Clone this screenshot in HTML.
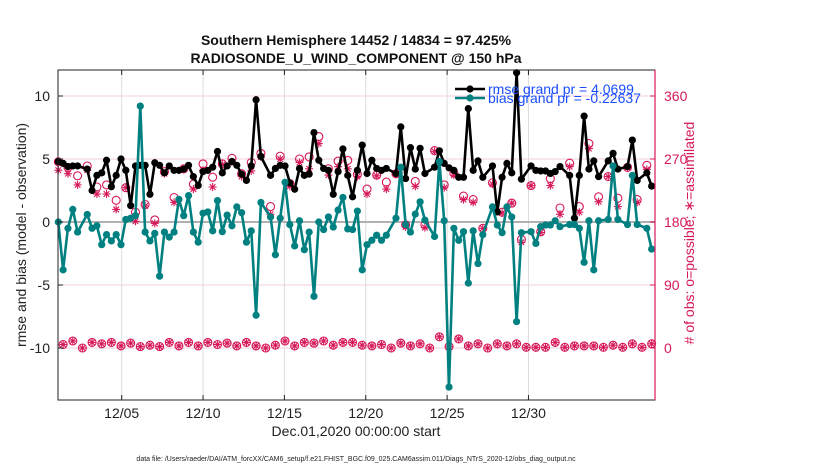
<!DOCTYPE html>
<html><head><meta charset="utf-8"><style>
body{margin:0;background:#fff;width:830px;height:470px;overflow:hidden;position:relative}
svg{font-family:"Liberation Sans",sans-serif}
</style></head><body>
<svg id="c" width="830" height="470"></svg>
<script>
const rmse=[4.8,4.65,4.4,4.45,4.45,null,4.2,2.5,3.7,3.9,4.9,2.8,3.7,5.0,4.1,1.3,4.45,4.5,4.5,2.2,4.7,4.5,3.9,4.45,4.1,4.1,4.2,4.5,3.6,2.9,4.0,4.1,
4.35,5.6,3.9,4.45,4.8,4.5,3.8,3.3,4.45,9.7,5.2,null,3.7,4.25,4.5,4.45,3.1,2.6,4.25,3.7,3.8,7.1,4.9,4.25,4.1,2.2,4.0,5.8,3.7,2.0,4.1,
6.1,3.85,4.9,4.25,4.1,4.25,null,3.85,7.55,3.45,5.9,4.2,5.85,3.85,null,4.35,5.65,4.65,4.3,4.1,3.55,3.55,9.0,4.1,4.85,3.55,null,4.45,0.8,3.55,4.65,
3.9,11.85,3.4,null,4.45,4.1,4.05,4.05,3.85,4.0,4.4,null,3.7,0.3,3.7,8.4,4.2,4.85,3.6,null,4.85,5.45,4.2,null,4.4,6.5,3.3,null,3.9,2.85];
const bias=[0,-3.8,-0.5,1,-0.8,null,0.6,-0.5,-0.3,-1.8,-1,-1.5,-1,-1.8,0.2,0.3,0.5,9.2,-0.8,-1.5,-0.9,-4.3,-0.8,-1.2,-0.8,1.8,0.5,2.1,-0.8,-1.6,0.7,0.8,
-0.7,1.7,-0.77,0.55,-0.3,1.2,0.74,-1.6,-0.7,-7.4,1.55,null,0.4,-2.6,0.3,3.15,-0.2,-1.9,0.1,-2.2,-0.8,-5.9,0,-0.6,0.4,-0.4,0.95,1.95,-0.55,-0.6,0.87,
-3.8,-1.8,-1.45,-1.05,-1.45,-1.05,null,0.3,4.35,-0.2,-0.8,0.63,1.6,0.15,null,-1.15,4.8,0.1,-13.1,-0.5,-1.45,-0.77,-4.85,-0.7,-3.3,-1.0,null,1.2,-0.24,-0.85,1.2,
0.4,-7.9,-0.85,null,-0.77,-1.7,-0.37,-0.24,-0.24,0.1,-0.37,null,-0.2,-0.2,-0.5,-3.2,0.1,-3.8,0.1,null,0.2,4.45,0.2,null,-0.2,3.7,-0.2,null,-0.5,-2.15];
const possible=[266,5,258,10,246,0,260,8,230,6,233,8,211,3,229,7,194,2,205,4,183,2,252,8,215,3,256,8,234,3,263,8,
244,5,263,7,271,3,249,8,265,3,278,0,202,4,274,10,235,3,270,8,273,7,302,10,256,4,267,8,268,8,248,
4,227,3,247,5,237,0,249,7,176,3,238,6,176,0,282,16,233,2,250,13,217,3,212,6,171,0,236,6,194,3,
207,6,155,1,232,1,166,1,242,8,200,1,264,3,202,3,292,3,216,1,245,4,214,1,258,6,212,1,261,6];
const assimilated=[254,5,249,10,233,0,254,8,220,6,220,8,198,3,229,7,181,2,203,4,178,2,249,8,208,3,255,8,227,3,254,8,
230,5,262,7,266,3,245,8,253,3,273,0,191,4,270,10,231,3,265,8,256,7,292,10,247,4,259,8,256,8,245,
4,220,3,246,5,227,0,248,7,173,3,231,6,172,0,281,16,229,2,247,13,212,3,208,6,171,0,234,6,193,3,
207,6,151,1,232,1,165,1,232,8,191,1,259,3,194,3,285,3,209,1,245,4,202,1,258,6,208,1,255,6];
const xTickDays=[4,9,14,19,24,29];
const xTickLabels=["12/05","12/10","12/15","12/20","12/25","12/30"];
const yTicks=[-10,-5,0,5,10];
const rTicks=[0,90,180,270,360];
const legendLabels=["rmse grand pr = 4.0699","bias grand pr = -0.22637"];
const t0=0.103, dt=0.2965; // sample times in days since Dec.01 00Z

const L=58,R=655,T=70,B=400;
const xDay=d=>121.7+(d-4)*16.27;
const y=v=>222-12.6*v;
const yR=c=>y((c-180)/18);
const NS="http://www.w3.org/2000/svg";
const svg=document.getElementById('c');
function mk(tag,at,parent){const e=document.createElementNS(NS,tag);for(const k in at)e.setAttribute(k,at[k]);(parent||svg).appendChild(e);return e;}
const CR="#d6185a";

yTicks.forEach(v=>{const g=mk('line',{x1:L,x2:R,y1:y(v),y2:y(v),stroke:"#f3cfe0","stroke-width":1});

});
xTickDays.forEach(d=>{const g=mk('line',{x1:xDay(d),x2:xDay(d),y1:T,y2:B,stroke:"#dcdcdc","stroke-width":1});

});
const zl=mk('line',{x1:L,x2:R,y1:y(0),y2:y(0),stroke:"#b0b0b0","stroke-width":2});



function series(arr,color,name){
  let d="";let started=false;
  arr.forEach((v,i)=>{if(v===null)return;const px=xDay(t0+dt*i),py=y(v);d+=(started?"L":"M")+px.toFixed(1)+" "+py.toFixed(1);started=true;});
  const p=mk('path',{d:d,fill:"none",stroke:color,"stroke-width":2.6,"stroke-linejoin":"round"});
  
  
  arr.forEach((v,i)=>{if(v===null)return;const c=mk('circle',{cx:xDay(t0+dt*i),cy:y(v),r:3.6,fill:color});
  
  });
}
function star(cx,cy,s,parent){for(let a=0;a<180;a+=45){const r=a*Math.PI/180;mk('line',{x1:cx-s*Math.cos(r),y1:cy-s*Math.sin(r),x2:cx+s*Math.cos(r),y2:cy+s*Math.sin(r),stroke:CR,"stroke-width":1.1},parent);}}
possible.forEach((c,i)=>{const o=mk('circle',{cx:xDay(t0+dt*i),cy:yR(c),r:4,fill:"none",stroke:CR,"stroke-width":1.1});

});
assimilated.forEach((c,i)=>{const g=mk('g',{});


star(xDay(t0+dt*i),yR(c),4,g);});
series(rmse,"#000","rmse");
series(bias,"#008080","bias");

const box=mk('rect',{x:L,y:T,width:R-L,height:B-T,fill:"none",stroke:"#222","stroke-width":1});


const ra=mk('line',{x1:R,x2:R,y1:T,y2:B,stroke:CR,"stroke-width":1.2});



yTicks.forEach(v=>{mk('line',{x1:L,x2:L+5,y1:y(v),y2:y(v),stroke:"#222"});
const t=mk('text',{x:L-8,y:y(v)+5,"text-anchor":"end","font-size":14,fill:"#222"});t.textContent=v;

});
rTicks.forEach(c=>{mk('line',{x1:R-5,x2:R,y1:yR(c),y2:yR(c),stroke:CR});
const t=mk('text',{x:R+9,y:yR(c)+5,"font-size":14,fill:CR});t.textContent=c;

});
xTickDays.forEach((d,i)=>{mk('line',{x1:xDay(d),x2:xDay(d),y1:B-5,y2:B,stroke:"#222"});mk('line',{x1:xDay(d),x2:xDay(d),y1:T,y2:T+5,stroke:"#222"});
const t=mk('text',{x:xDay(d),y:B+18,"text-anchor":"middle","font-size":14,fill:"#222"});t.textContent=xTickLabels[i];

});

const lg=mk('g',{});


[["#000",89],["#008080",98]].forEach((s,i)=>{
 mk('line',{x1:455,x2:485,y1:s[1],y2:s[1],stroke:s[0],"stroke-width":2.6},lg);
 mk('circle',{cx:470,cy:s[1],r:3.6,fill:s[0]},lg);
 const t=mk('text',{x:488,y:s[1]+5,"font-size":14,fill:"#1a4dff"},lg);t.textContent=legendLabels[i];
 
 
});
</script>
<svg width="830" height="470" style="position:absolute;left:0;top:0">
<text x="356" y="45" text-anchor="middle" font-size="14" font-weight="bold" fill="#111" font-family="Liberation Sans, sans-serif">Southern Hemisphere 14452 / 14834 = 97.425%</text>
<text x="356" y="63" text-anchor="middle" font-size="14" font-weight="bold" fill="#111" font-family="Liberation Sans, sans-serif">RADIOSONDE_U_WIND_COMPONENT @ 150 hPa</text>
<text x="356" y="436" text-anchor="middle" font-size="14" fill="#222" font-family="Liberation Sans, sans-serif">Dec.01,2020 00:00:00 start</text>
<text transform="translate(26,235) rotate(-90)" text-anchor="middle" font-size="14" fill="#222" font-family="Liberation Sans, sans-serif">rmse and bias (model - observation)</text>
<text transform="translate(694,233) rotate(-90)" text-anchor="middle" font-size="14" fill="#d6185a" font-family="Liberation Sans, sans-serif"># of obs: o=possible; ∗=assimilated</text>
<text x="356" y="461" text-anchor="middle" font-size="7" fill="#222" font-family="Liberation Sans, sans-serif">data file: /Users/raeder/DAI/ATM_forcXX/CAM6_setup/f.e21.FHIST_BGC.f09_025.CAM6assim.011/Diags_NTrS_2020-12/obs_diag_output.nc</text>
</svg>
</body></html>
